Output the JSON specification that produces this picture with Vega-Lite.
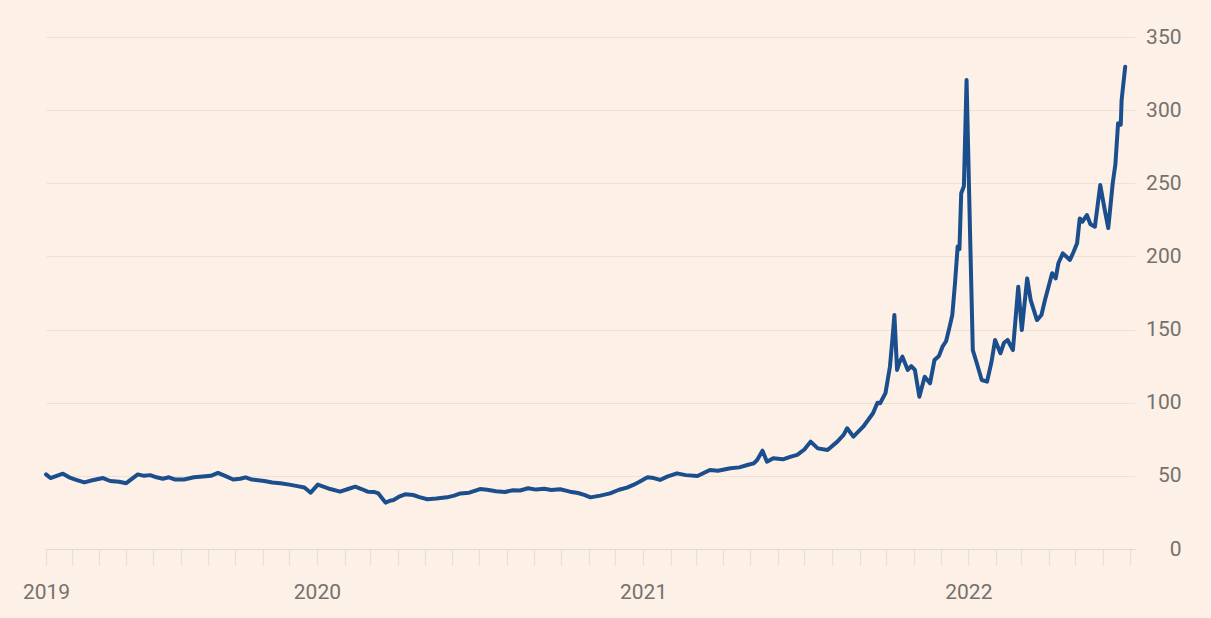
{
  "$schema": "https://vega.github.io/schema/vega-lite/v6.json",
  "autosize": "none",
  "width": 1089,
  "height": 512,
  "padding": {"left": 46, "top": 37, "right": 76, "bottom": 69},
  "background": "#FDF0E6",
  "config": {"view": {"stroke": null}, "font": "Roboto"},
  "data": {"values": [
    {"date": "2019-03-03", "price": 51}, {"date": "2019-03-08", "price": 48.5}, {"date": "2019-03-15", "price": 50}, {"date": "2019-03-22", "price": 51.5}, {"date": "2019-03-29", "price": 49},
    {"date": "2019-04-05", "price": 47.5}, {"date": "2019-04-15", "price": 45.5}, {"date": "2019-04-24", "price": 47}, {"date": "2019-05-06", "price": 48.5}, {"date": "2019-05-14", "price": 46.5},
    {"date": "2019-05-24", "price": 46}, {"date": "2019-06-01", "price": 45}, {"date": "2019-06-14", "price": 51}, {"date": "2019-06-21", "price": 50}, {"date": "2019-06-28", "price": 50.5},
    {"date": "2019-07-05", "price": 49}, {"date": "2019-07-12", "price": 48}, {"date": "2019-07-19", "price": 49}, {"date": "2019-07-26", "price": 47.5}, {"date": "2019-08-05", "price": 47.5},
    {"date": "2019-08-16", "price": 49}, {"date": "2019-08-26", "price": 49.5}, {"date": "2019-09-04", "price": 50}, {"date": "2019-09-12", "price": 52}, {"date": "2019-09-20", "price": 50},
    {"date": "2019-09-29", "price": 47.5}, {"date": "2019-10-07", "price": 48}, {"date": "2019-10-13", "price": 49}, {"date": "2019-10-20", "price": 47.5}, {"date": "2019-10-27", "price": 47},
    {"date": "2019-11-03", "price": 46.5}, {"date": "2019-11-12", "price": 45.5}, {"date": "2019-11-21", "price": 44.9}, {"date": "2019-12-01", "price": 44}, {"date": "2019-12-10", "price": 43}, 
    {"date": "2019-12-18", "price": 42}, {"date": "2019-12-25", "price": 38.5},
    {"date": "2020-01-02", "price": 44}, {"date": "2020-01-09", "price": 42.5}, {"date": "2020-01-16", "price": 41}, {"date": "2020-01-27", "price": 39.2}, {"date": "2020-02-05", "price": 41},
    {"date": "2020-02-13", "price": 42.6}, {"date": "2020-02-20", "price": 41}, {"date": "2020-02-27", "price": 39.2}, {"date": "2020-03-05", "price": 39}, {"date": "2020-03-10", "price": 38},
    {"date": "2020-03-18", "price": 31.7}, {"date": "2020-03-23", "price": 33}, {"date": "2020-03-27", "price": 33.5}, {"date": "2020-04-03", "price": 36}, {"date": "2020-04-09", "price": 37.4},
    {"date": "2020-04-18", "price": 36.9}, {"date": "2020-04-25", "price": 35.5}, {"date": "2020-05-04", "price": 34}, {"date": "2020-05-14", "price": 34.5}, {"date": "2020-05-26", "price": 35.3},
    {"date": "2020-06-03", "price": 36.5}, {"date": "2020-06-10", "price": 38}, {"date": "2020-06-20", "price": 38.5}, {"date": "2020-07-02", "price": 41}, {"date": "2020-07-10", "price": 40.5},
    {"date": "2020-07-20", "price": 39.5}, {"date": "2020-07-30", "price": 39}, {"date": "2020-08-08", "price": 40.2}, {"date": "2020-08-16", "price": 40}, {"date": "2020-08-25", "price": 41.5},
    {"date": "2020-09-03", "price": 40.6}, {"date": "2020-09-12", "price": 41.2}, {"date": "2020-09-20", "price": 40.3}, {"date": "2020-09-30", "price": 40.8}, {"date": "2020-10-11", "price": 39.2},
    {"date": "2020-10-20", "price": 38.3}, {"date": "2020-10-27", "price": 37}, {"date": "2020-11-03", "price": 35.3}, {"date": "2020-11-14", "price": 36.5}, {"date": "2020-11-25", "price": 38},
    {"date": "2020-12-05", "price": 40.5}, {"date": "2020-12-14", "price": 42}, {"date": "2020-12-21", "price": 43.8}, {"date": "2020-12-28", "price": 46},
    {"date": "2021-01-06", "price": 49}, {"date": "2021-01-13", "price": 48.5}, {"date": "2021-01-20", "price": 47.2}, {"date": "2021-01-28", "price": 49.5}, {"date": "2021-02-08", "price": 51.7},
    {"date": "2021-02-18", "price": 50.5}, {"date": "2021-03-03", "price": 49.9}, {"date": "2021-03-10", "price": 52}, {"date": "2021-03-17", "price": 54}, {"date": "2021-03-26", "price": 53.5},
    {"date": "2021-04-09", "price": 55.2}, {"date": "2021-04-19", "price": 55.8}, {"date": "2021-04-28", "price": 57.4}, {"date": "2021-05-05", "price": 58.5}, {"date": "2021-05-09", "price": 60.8},
    {"date": "2021-05-15", "price": 67.2}, {"date": "2021-05-20", "price": 59.7}, {"date": "2021-05-27", "price": 62}, {"date": "2021-06-07", "price": 61.3}, {"date": "2021-06-15", "price": 63},
    {"date": "2021-06-23", "price": 64.3}, {"date": "2021-07-01", "price": 68}, {"date": "2021-07-08", "price": 73.4}, {"date": "2021-07-16", "price": 68.8}, {"date": "2021-07-27", "price": 67.7},
    {"date": "2021-08-07", "price": 73.4}, {"date": "2021-08-14", "price": 78}, {"date": "2021-08-18", "price": 82.5}, {"date": "2021-08-25", "price": 76.8}, {"date": "2021-09-05", "price": 83.6},
    {"date": "2021-09-16", "price": 92.8}, {"date": "2021-09-21", "price": 100}, {"date": "2021-09-24", "price": 99.6}, {"date": "2021-09-30", "price": 106.6}, {"date": "2021-10-05", "price": 124.6},
    {"date": "2021-10-08", "price": 145}, {"date": "2021-10-10", "price": 160}, {"date": "2021-10-13", "price": 122.4}, {"date": "2021-10-16", "price": 128}, {"date": "2021-10-19", "price": 131.5},
    {"date": "2021-10-25", "price": 122.4}, {"date": "2021-10-29", "price": 125}, {"date": "2021-11-02", "price": 122.4}, {"date": "2021-11-07", "price": 104.1}, {"date": "2021-11-13", "price": 117.8},
    {"date": "2021-11-19", "price": 113.3}, {"date": "2021-11-24", "price": 129.2}, {"date": "2021-11-29", "price": 132}, {"date": "2021-12-03", "price": 138.3}, {"date": "2021-12-07", "price": 142},
    {"date": "2021-12-11", "price": 152}, {"date": "2021-12-14", "price": 160}, {"date": "2021-12-17", "price": 181.6}, {"date": "2021-12-20", "price": 206.7}, {"date": "2021-12-22", "price": 205},
    {"date": "2021-12-24", "price": 243.2}, {"date": "2021-12-27", "price": 248}, {"date": "2021-12-30", "price": 320.6},
    {"date": "2022-01-03", "price": 213.5}, {"date": "2022-01-06", "price": 136}, {"date": "2022-01-10", "price": 128}, {"date": "2022-01-16", "price": 115.5}, {"date": "2022-01-22", "price": 114.4},
    {"date": "2022-01-27", "price": 128}, {"date": "2022-01-31", "price": 142.9}, {"date": "2022-02-06", "price": 133.8}, {"date": "2022-02-10", "price": 141}, {"date": "2022-02-14", "price": 142.9},
    {"date": "2022-02-20", "price": 136}, {"date": "2022-02-26", "price": 179.3}, {"date": "2022-03-02", "price": 149.7}, {"date": "2022-03-08", "price": 185}, {"date": "2022-03-12", "price": 170},
    {"date": "2022-03-19", "price": 156.5}, {"date": "2022-03-24", "price": 160}, {"date": "2022-03-28", "price": 170.2}, {"date": "2022-04-05", "price": 188.5}, {"date": "2022-04-09", "price": 185},
    {"date": "2022-04-12", "price": 195.3}, {"date": "2022-04-17", "price": 202.1}, {"date": "2022-04-25", "price": 197.6}, {"date": "2022-04-29", "price": 203}, {"date": "2022-05-03", "price": 209},
    {"date": "2022-05-06", "price": 226}, {"date": "2022-05-09", "price": 223.8}, {"date": "2022-05-14", "price": 228.3}, {"date": "2022-05-18", "price": 222}, {"date": "2022-05-23", "price": 220.3},
    {"date": "2022-05-29", "price": 248.8}, {"date": "2022-06-03", "price": 232}, {"date": "2022-06-07", "price": 219.4}, {"date": "2022-06-12", "price": 250}, {"date": "2022-06-15", "price": 263},
    {"date": "2022-06-18", "price": 291}, {"date": "2022-06-21", "price": 290}, {"date": "2022-06-22", "price": 307}, {"date": "2022-06-26", "price": 329.7}
  ]},
  "mark": {"type": "line", "color": "#1B4E8D", "strokeWidth": 4, "strokeJoin": "round", "strokeCap": "round"},
  "encoding": {
    "x": {
      "field": "date", "type": "temporal", "title": null,
      "scale": {"type": "utc", "domain": [{"year": 2019, "month": 3, "date": 3, "utc": true}, {"year": 2022, "month": 7, "date": 7, "utc": true}]},
      "axis": {
        "values": [
          {"year": 2019, "month": 3, "date": 3, "utc": true},
          {"year": 2019, "month": 4, "date": 1, "utc": true}, {"year": 2019, "month": 5, "date": 1, "utc": true}, {"year": 2019, "month": 6, "date": 1, "utc": true},
          {"year": 2019, "month": 7, "date": 1, "utc": true}, {"year": 2019, "month": 8, "date": 1, "utc": true}, {"year": 2019, "month": 9, "date": 1, "utc": true},
          {"year": 2019, "month": 10, "date": 1, "utc": true}, {"year": 2019, "month": 11, "date": 1, "utc": true}, {"year": 2019, "month": 12, "date": 1, "utc": true},
          {"year": 2020, "month": 1, "date": 1, "utc": true}, {"year": 2020, "month": 2, "date": 1, "utc": true}, {"year": 2020, "month": 3, "date": 1, "utc": true},
          {"year": 2020, "month": 4, "date": 1, "utc": true}, {"year": 2020, "month": 5, "date": 1, "utc": true}, {"year": 2020, "month": 6, "date": 1, "utc": true},
          {"year": 2020, "month": 7, "date": 1, "utc": true}, {"year": 2020, "month": 8, "date": 1, "utc": true}, {"year": 2020, "month": 9, "date": 1, "utc": true},
          {"year": 2020, "month": 10, "date": 1, "utc": true}, {"year": 2020, "month": 11, "date": 1, "utc": true}, {"year": 2020, "month": 12, "date": 1, "utc": true},
          {"year": 2021, "month": 1, "date": 1, "utc": true}, {"year": 2021, "month": 2, "date": 1, "utc": true}, {"year": 2021, "month": 3, "date": 1, "utc": true},
          {"year": 2021, "month": 4, "date": 1, "utc": true}, {"year": 2021, "month": 5, "date": 1, "utc": true}, {"year": 2021, "month": 6, "date": 1, "utc": true},
          {"year": 2021, "month": 7, "date": 1, "utc": true}, {"year": 2021, "month": 8, "date": 1, "utc": true}, {"year": 2021, "month": 9, "date": 1, "utc": true},
          {"year": 2021, "month": 10, "date": 1, "utc": true}, {"year": 2021, "month": 11, "date": 1, "utc": true}, {"year": 2021, "month": 12, "date": 1, "utc": true},
          {"year": 2022, "month": 1, "date": 1, "utc": true}, {"year": 2022, "month": 2, "date": 1, "utc": true}, {"year": 2022, "month": 3, "date": 1, "utc": true},
          {"year": 2022, "month": 4, "date": 1, "utc": true}, {"year": 2022, "month": 5, "date": 1, "utc": true}, {"year": 2022, "month": 6, "date": 1, "utc": true},
          {"year": 2022, "month": 7, "date": 1, "utc": true}
        ],
        "labelExpr": "(utcFormat(datum.value, '%m-%d') == '01-01' || time(datum.value) < 1552000000000) ? utcFormat(datum.value, '%Y') : ''",
        "labelOverlap": false,
        "labelFlush": false,
        "labelBound": false,
        "labelFontSize": 21,
        "labelColor": "#76716D",
        "labelPadding": 16,
        "tickSize": 16,
        "tickColor": "#EADFD5",
        "tickWidth": 1.2,
        "domain": true,
        "domainColor": "#E4D9CF",
        "domainWidth": 1.2,
        "grid": false
      }
    },
    "y": {
      "field": "price", "type": "quantitative", "title": null,
      "scale": {"domain": [0, 350], "nice": false, "zero": true},
      "axis": {
        "orient": "right",
        "values": [0, 50, 100, 150, 200, 250, 300, 350],
        "grid": true,
        "gridColor": "#EDE1D7",
        "gridWidth": 1.2,
        "domain": false,
        "ticks": false,
        "labelAlign": "right",
        "labelBaseline": "middle",
        "labelPadding": 46,
        "labelFontSize": 21,
        "labelColor": "#76716D"
      }
    }
  }
}
